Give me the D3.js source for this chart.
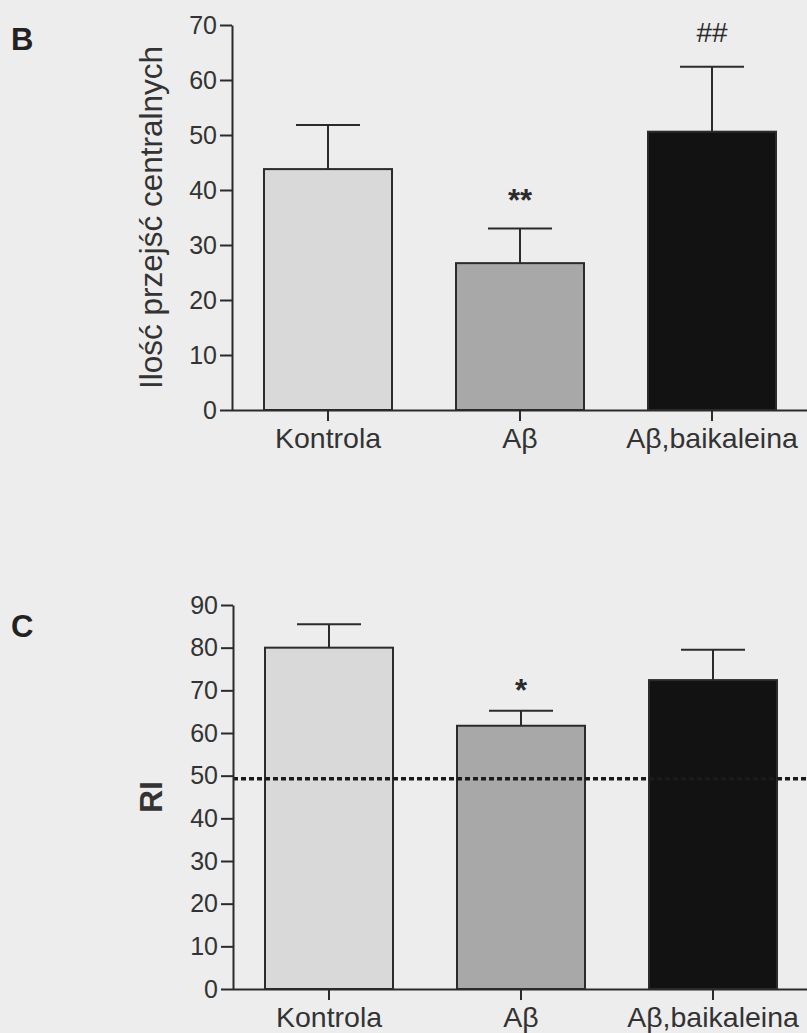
<!DOCTYPE html>
<html>
<head>
 <meta charset="utf-8"/>
 <script src="https://d3js.org/d3.v7.min.js"></script>
 <style>
  html, body { margin: 0; padding: 0; background: #ededed; }
  svg { display: block; font-family: "Liberation Sans", Arial, sans-serif; }
 </style>
</head>
<body>
 <div id="chart"></div>
 <script type="text/javascript">
   var categories = ["Kontrola", "Aβ", "Aβ,baikaleina"];
   var barColors = ["#d9d9d9", "#a8a8a8", "#121212"];

   var crossingsMean = [43.8, 26.7, 50.6];
   var crossingsErr = [8.0, 6.3, 11.8];
   var crossingsMarks = ["", "**", "##"];
   var crossingsTicks = [0, 10, 20, 30, 40, 50, 60, 70];

   var riMean = [80.0, 61.7, 72.4];
   var riErr = [5.5, 3.5, 7.1];
   var riMarks = ["", "*", ""];
   var riTicks = [0, 10, 20, 30, 40, 50, 60, 70, 80, 90];
   var riChance = 49.3;

   var width = 807, height = 1033;
   var ink = "#2b2b2b";

   var svg = d3.select("#chart")
               .append("svg")
               .attr("width", width)
               .attr("height", height);

   var drawPanel = function (p) {
     var x = d3.scaleBand()
               .domain(categories)
               .range([p.left, p.left + 576])
               .paddingInner(1 / 3)
               .paddingOuter(1 / 6);
     var y = d3.scaleLinear()
               .domain([0, d3.max(p.ticks)])
               .range([p.bottom, p.top]);
     var g = svg.append("g");

     // słupki
     g.selectAll("rect.bar")
      .data(p.mean)
      .enter().append("rect")
      .attr("class", "bar")
      .attr("x", function (d, i) { return x(categories[i]); })
      .attr("width", x.bandwidth())
      .attr("y", function (d) { return y(d); })
      .attr("height", function (d) { return y(0) - y(d); })
      .style("fill", function (d, i) { return barColors[i]; })
      .style("stroke", ink)
      .style("stroke-width", 2);

     // linia odniesienia (50%)
     if (p.chance !== undefined) {
       g.append("line")
        .attr("x1", p.left).attr("x2", width)
        .attr("y1", y(p.chance)).attr("y2", y(p.chance))
        .style("stroke", "#1a1a1a")
        .style("stroke-width", 3.5)
        .style("stroke-dasharray", "5,3");
     }

     // słupki błędu (tylko w górę)
     var cx = function (i) { return x(categories[i]) + x.bandwidth() / 2; };
     var eb = g.selectAll("g.err")
               .data(p.mean)
               .enter().append("g")
               .attr("class", "err")
               .style("stroke", ink)
               .style("stroke-width", 2);
     eb.append("line")
       .attr("x1", function (d, i) { return cx(i); })
       .attr("x2", function (d, i) { return cx(i); })
       .attr("y1", function (d) { return y(d); })
       .attr("y2", function (d, i) { return y(d + p.err[i]); });
     eb.append("line")
       .attr("x1", function (d, i) { return cx(i) - 32; })
       .attr("x2", function (d, i) { return cx(i) + 32; })
       .attr("y1", function (d, i) { return y(d + p.err[i]); })
       .attr("y2", function (d, i) { return y(d + p.err[i]); });

     // oznaczenia istotności
     g.selectAll("text.mark")
      .data(p.marks)
      .enter().append("text")
      .attr("class", "mark")
      .attr("x", function (d, i) { return cx(i); })
      .attr("y", function (d, i) {
        return y(p.mean[i] + p.err[i]) - (d.charAt(0) === "#" ? 25 : p.starGap);
      })
      .attr("text-anchor", "middle")
      .style("font-size", function (d) { return d.charAt(0) === "*" ? "31px" : "28px"; })
      .style("font-weight", function (d) { return d.charAt(0) === "*" ? "bold" : "normal"; })
      .style("fill", ink)
      .text(function (d) { return d; });

     // osie
     var yAxis = d3.axisLeft(y).tickValues(p.ticks).tickSize(12).tickPadding(3).tickSizeOuter(0);
     var ay = g.append("g")
               .attr("transform", "translate(" + p.left + ",0)")
               .call(yAxis);
     var xAxis = d3.axisBottom(x).tickSize(11).tickSizeOuter(0);
     var ax = g.append("g")
               .attr("transform", "translate(0," + p.bottom + ")")
               .call(xAxis);
     ax.select(".domain").attr("d", "M" + p.left + ",0.5H" + width);
     [ay, ax].forEach(function (a) {
       a.selectAll("path, line").style("stroke", ink).style("stroke-width", 2);
       a.selectAll("text").style("fill", "#333").style("font-family", "Liberation Sans, Arial, sans-serif");
     });
     ay.selectAll("text").style("font-size", "25px");
     ax.selectAll("text").style("font-size", "28.5px").attr("y", 38).attr("dy", 0);

     // tytuł osi Y
     g.append("text")
      .attr("transform", "translate(" + p.labelX + "," + ((p.top + p.bottom) / 2) + ") rotate(-90)")
      .attr("text-anchor", "middle")
      .style("font-size", p.labelSize + "px")
      .style("font-weight", p.labelBold ? "bold" : "normal")
      .style("fill", "#333")
      .text(p.label);

     // litera panelu
     g.append("text")
      .attr("x", 11).attr("y", p.top + p.letterDy)
      .style("font-size", "31px")
      .style("font-weight", "bold")
      .style("fill", "#222")
      .text(p.letter);
   };

   drawPanel({
     letter: "B", letterDy: 25,
     label: "Ilość przejść centralnych", labelSize: 31.5, labelBold: false, labelX: 162,
     mean: crossingsMean, err: crossingsErr, marks: crossingsMarks, ticks: crossingsTicks,
     left: 232, top: 25, bottom: 410, starGap: 18
   });
   drawPanel({
     letter: "C", letterDy: 32,
     label: "RI", labelSize: 32, labelBold: true, labelX: 162,
     mean: riMean, err: riErr, marks: riMarks, ticks: riTicks, chance: riChance,
     left: 233, top: 605, bottom: 989, starGap: 10
   });
 </script>
</body>
</html>
